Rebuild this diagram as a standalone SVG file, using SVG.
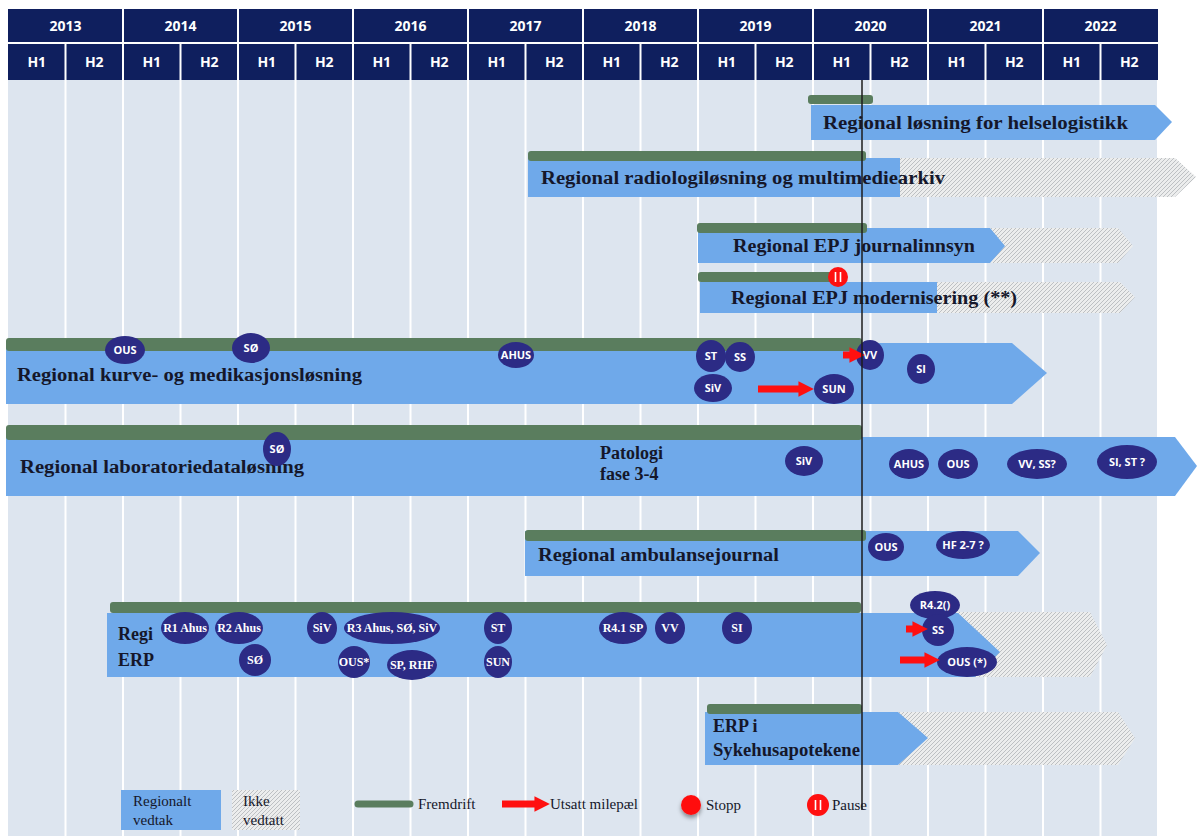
<svg xmlns="http://www.w3.org/2000/svg" width="1197" height="836" viewBox="0 0 1197 836">
<defs>
<pattern id="hatch" width="4" height="4" patternUnits="userSpaceOnUse">
<rect width="4" height="4" fill="#eceded"/>
<path d="M-1,1 L1,-1 M0,4 L4,0 M3,5 L5,3" stroke="#a9acb0" stroke-width="0.7"/>
</pattern>
<marker id="redhead" viewBox="0 0 10 10" refX="1" refY="5" markerWidth="2.2" markerHeight="2.2" orient="auto" markerUnits="strokeWidth">
<path d="M0,0 L10,5 L0,10 Z" fill="#ff1010"/>
</marker>
<filter id="shadow" x="-50%" y="-50%" width="200%" height="200%">
<feDropShadow dx="0" dy="3" stdDeviation="2" flood-color="#000" flood-opacity="0.4"/>
</filter>
</defs>
<style>
.hdr{fill:#0f1f5e}
.hline{stroke:#ffffff;stroke-width:2}
.grid{stroke:#ffffff;stroke-width:2}
.htxt{font-family:"Open Sans","Liberation Sans",sans-serif;font-weight:bold;font-size:14px;fill:#ffffff;text-anchor:middle}
.blue{fill:#6fa9ea}
.hat{fill:url(#hatch)}
.green{fill:#5a7d5e}
.lbl{font-family:"Liberation Serif",serif;font-weight:bold;font-size:18px;fill:#15172a}
.ov{fill:#2c2b85}
.ot{font-family:"Open Sans","Liberation Sans",sans-serif;font-size:11px;font-weight:bold;fill:#ffffff;text-anchor:middle}
.os{font-family:"Liberation Serif",serif;font-size:12px;font-weight:bold;fill:#ffffff;text-anchor:middle}
.red{stroke:#ff1010;stroke-width:7;marker-end:url(#redhead)}
.leg{font-family:"Liberation Serif",serif;font-size:15px;fill:#15172a}
</style>
<rect x="0" y="0" width="1197" height="836" fill="#ffffff"/>
<rect x="8" y="80" width="1150" height="756" fill="#dde5ef"/>
<g id="grid">
<path class="grid" d="M65.5,80V836M123,80V836M180.5,80V836M238,80V836M295.5,80V836M353,80V836M410.5,80V836M468,80V836M525.5,80V836M583,80V836M640.5,80V836M698,80V836M755.5,80V836M813,80V836M870.5,80V836M928,80V836M985.5,80V836M1043,80V836M1100.5,80V836M1158,80V836"/>
</g>
<g id="header">
<rect class="hdr" x="8" y="9" width="1150" height="71"/>
<path class="hline" d="M8,43H1158M123,9V80M238,9V80M353,9V80M468,9V80M583,9V80M698,9V80M813,9V80M928,9V80M1043,9V80M65.5,43V80M180.5,43V80M295.5,43V80M410.5,43V80M525.5,43V80M640.5,43V80M755.5,43V80M870.5,43V80M985.5,43V80M1100.5,43V80"/>
<text class="htxt" x="65.5" y="31">2013</text>
<text class="htxt" x="180.5" y="31">2014</text>
<text class="htxt" x="295.5" y="31">2015</text>
<text class="htxt" x="410.5" y="31">2016</text>
<text class="htxt" x="525.5" y="31">2017</text>
<text class="htxt" x="640.5" y="31">2018</text>
<text class="htxt" x="755.5" y="31">2019</text>
<text class="htxt" x="870.5" y="31">2020</text>
<text class="htxt" x="985.5" y="31">2021</text>
<text class="htxt" x="1100.5" y="31">2022</text>
<text class="htxt" x="36.75" y="67">H1</text><text class="htxt" x="94.25" y="67">H2</text>
<text class="htxt" x="151.75" y="67">H1</text><text class="htxt" x="209.25" y="67">H2</text>
<text class="htxt" x="266.75" y="67">H1</text><text class="htxt" x="324.25" y="67">H2</text>
<text class="htxt" x="381.75" y="67">H1</text><text class="htxt" x="439.25" y="67">H2</text>
<text class="htxt" x="496.75" y="67">H1</text><text class="htxt" x="554.25" y="67">H2</text>
<text class="htxt" x="611.75" y="67">H1</text><text class="htxt" x="669.25" y="67">H2</text>
<text class="htxt" x="726.75" y="67">H1</text><text class="htxt" x="784.25" y="67">H2</text>
<text class="htxt" x="841.75" y="67">H1</text><text class="htxt" x="899.25" y="67">H2</text>
<text class="htxt" x="956.75" y="67">H1</text><text class="htxt" x="1014.25" y="67">H2</text>
<text class="htxt" x="1071.75" y="67">H1</text><text class="htxt" x="1129.25" y="67">H2</text>
</g>

<g id="helselogistikk">
<polygon class="blue" points="811,105 1155,105 1172,122 1155,140 811,140"/>
<rect class="green" x="808" y="95" width="65" height="9" rx="3"/>
<text class="lbl" x="823" y="129" textLength="305" lengthAdjust="spacingAndGlyphs">Regional løsning for helselogistikk</text>
</g>

<g id="radiologi">
<polygon class="hat" points="895,158 1175,158 1196,177 1175,197 895,197"/>
<rect class="blue" x="528" y="158" width="372" height="39"/>
<rect class="green" x="528" y="151" width="338" height="10" rx="3"/>
<text class="lbl" x="541" y="184" textLength="404" lengthAdjust="spacingAndGlyphs">Regional radiologiløsning og multimediearkiv</text>
</g>

<g id="journalinnsyn">
<polygon class="hat" points="980,228 1118,228 1133,246 1118,263 980,263"/>
<polygon class="blue" points="698,228 990,228 1005,246 990,263 698,263"/>
<rect class="green" x="697" y="223" width="170" height="10" rx="3"/>
<text class="lbl" x="733" y="252" textLength="242" lengthAdjust="spacingAndGlyphs">Regional  EPJ journalinnsyn</text>
</g>

<g id="modernisering">
<polygon class="hat" points="935,282 1120,282 1135,297 1120,313 935,313"/>
<rect class="blue" x="700" y="282" width="237" height="31"/>
<rect class="green" x="698" y="272" width="135" height="10" rx="3"/>
<circle cx="838" cy="277" r="10" fill="#ff1010"/>
<path d="M835.5,272V282M840.5,272V282" stroke="#ffffff" stroke-width="1.6"/>
<text class="lbl" x="731" y="304" textLength="286" lengthAdjust="spacingAndGlyphs">Regional EPJ modernisering  (**)</text>
</g>

<g id="kurve">
<polygon class="blue" points="6,343 1012,343 1047,373 1012,404 6,404"/>
<rect class="green" x="6" y="338" width="856" height="13" rx="3"/>
<text class="lbl" x="17" y="381" textLength="345" lengthAdjust="spacingAndGlyphs">Regional kurve- og medikasjonsløsning</text>
<ellipse class="ov" cx="125" cy="350" rx="20" ry="14"/><text class="ot" x="125" y="354">OUS</text>
<ellipse class="ov" cx="251" cy="348" rx="19" ry="15"/><text class="ot" x="251" y="352">SØ</text>
<ellipse class="ov" cx="516" cy="355" rx="18" ry="13"/><text class="ot" x="516" y="359">AHUS</text>
<ellipse class="ov" cx="711" cy="356" rx="15" ry="16"/><text class="ot" x="711" y="360">ST</text>
<ellipse class="ov" cx="740" cy="357" rx="15" ry="15"/><text class="ot" x="740" y="361">SS</text>
<ellipse class="ov" cx="713" cy="388" rx="19" ry="14"/><text class="ot" x="713" y="392">SiV</text>
<ellipse class="ov" cx="834" cy="389" rx="20" ry="15"/><text class="ot" x="834" y="393">SUN</text>
<ellipse class="ov" cx="870" cy="355" rx="14" ry="15"/><text class="ot" x="870" y="359">VV</text>
<ellipse class="ov" cx="921" cy="369" rx="14" ry="15"/><text class="ot" x="921" y="373">SI</text>
</g>

<g id="laboratorie">
<polygon class="blue" points="6,437 1175,437 1197,466 1175,496 6,496"/>
<rect class="green" x="6" y="425" width="856" height="15" rx="3"/>
<text class="lbl" x="20" y="473" textLength="284" lengthAdjust="spacingAndGlyphs">Regional laboratoriedataløsning</text>
<text class="lbl" x="600" y="459">Patologi</text>
<text class="lbl" x="600" y="480">fase 3-4</text>
<ellipse class="ov" cx="277" cy="449" rx="14" ry="17"/><text class="ot" x="277" y="453">SØ</text>
<ellipse class="ov" cx="804" cy="461" rx="19" ry="15"/><text class="ot" x="804" y="465">SiV</text>
<ellipse class="ov" cx="909" cy="464" rx="20" ry="15"/><text class="ot" x="909" y="468">AHUS</text>
<ellipse class="ov" cx="958" cy="464" rx="20" ry="15"/><text class="ot" x="958" y="468">OUS</text>
<ellipse class="ov" cx="1037" cy="464" rx="30" ry="15"/><text class="ot" x="1037" y="468">VV, SS?</text>
<ellipse class="ov" cx="1127" cy="462" rx="30" ry="17"/><text class="ot" x="1127" y="466">SI, ST ?</text>
</g>

<g id="ambulanse">
<polygon class="blue" points="525,531 1018,531 1040,553 1018,576 525,576"/>
<rect class="green" x="525" y="530" width="341" height="11" rx="3"/>
<text class="lbl" x="538" y="561" textLength="241" lengthAdjust="spacingAndGlyphs">Regional ambulansejournal</text>
<ellipse class="ov" cx="886" cy="547" rx="18" ry="14"/><text class="ot" x="886" y="551">OUS</text>
<ellipse class="ov" cx="963" cy="545" rx="27" ry="14"/><text class="ot" x="963" y="549">HF 2-7 ?</text>
</g>

<g id="erp">
<polygon class="hat" points="955,612 1090,612 1107,645 1090,677 955,677"/>
<polygon class="blue" points="107,613 958,613 1000,652 975,677 107,677"/>
<rect class="green" x="110" y="602" width="751" height="11" rx="3"/>
<text class="lbl" x="118" y="640">Regi</text>
<text class="lbl" x="118" y="666">ERP</text>
<ellipse class="ov" cx="185" cy="628" rx="24" ry="16"/><text class="os" x="185" y="632">R1 Ahus</text>
<ellipse class="ov" cx="239" cy="628" rx="24" ry="16"/><text class="os" x="239" y="632">R2 Ahus</text>
<ellipse class="ov" cx="322" cy="628" rx="15" ry="16"/><text class="os" x="322" y="632">SiV</text>
<ellipse class="ov" cx="392" cy="628" rx="48" ry="16"/><text class="os" x="392" y="632">R3 Ahus, SØ, SiV</text>
<ellipse class="ov" cx="498" cy="628" rx="14" ry="16"/><text class="os" x="498" y="632">ST</text>
<ellipse class="ov" cx="623" cy="628" rx="24" ry="16"/><text class="os" x="623" y="632">R4.1 SP</text>
<ellipse class="ov" cx="670" cy="628" rx="15" ry="16"/><text class="os" x="670" y="632">VV</text>
<ellipse class="ov" cx="737" cy="628" rx="15" ry="16"/><text class="os" x="737" y="632">SI</text>
<ellipse class="ov" cx="255" cy="660" rx="16" ry="16"/><text class="os" x="255" y="664">SØ</text>
<ellipse class="ov" cx="354" cy="662" rx="16" ry="16"/><text class="os" x="354" y="666">OUS*</text>
<ellipse class="ov" cx="412" cy="665" rx="25" ry="15"/><text class="os" x="412" y="669">SP, RHF</text>
<ellipse class="ov" cx="498" cy="662" rx="14" ry="16"/><text class="os" x="498" y="666">SUN</text>
<ellipse class="ov" cx="935" cy="605" rx="25" ry="14"/><text class="ot" x="935" y="609">R4.2()</text>
<ellipse class="ov" cx="938" cy="630" rx="16" ry="16"/><text class="ot" x="938" y="634">SS</text>
<ellipse class="ov" cx="967" cy="662" rx="30" ry="15"/><text class="ot" x="967" y="666">OUS (*)</text>
</g>

<g id="sykehusapotek">
<polygon class="hat" points="895,712 1118,712 1135,738 1118,765 895,765"/>
<polygon class="blue" points="705,712 898,712 928,738 898,765 705,765"/>
<rect class="green" x="707" y="704" width="155" height="10" rx="3"/>
<text class="lbl" x="713" y="732">ERP i</text>
<text class="lbl" x="713" y="756" textLength="147" lengthAdjust="spacingAndGlyphs">Sykehusapotekene</text>
</g>

<g id="connectors">
<line class="red" x1="843" y1="355" x2="851" y2="355"/>
<line class="red" x1="758" y1="389" x2="800" y2="389"/>
<line class="red" x1="906" y1="629" x2="914" y2="629"/>
<line class="red" x1="900" y1="660" x2="926" y2="660"/>
<line x1="862" y1="80" x2="862" y2="810" stroke="#1d1d1d" stroke-width="1.5"/>
</g>

<g id="legend">
<rect class="blue" x="121" y="790" width="100" height="40"/>
<text class="leg" x="133" y="806">Regionalt</text>
<text class="leg" x="133" y="825">vedtak</text>
<rect class="hat" x="232" y="790" width="68" height="40"/>
<text class="leg" x="243" y="806">Ikke</text>
<text class="leg" x="243" y="825">vedtatt</text>
<line x1="358" y1="804" x2="410" y2="804" stroke="#5a7d5e" stroke-width="7" stroke-linecap="round"/>
<text class="leg" x="418" y="809">Fremdrift</text>
<line class="red" x1="502" y1="804" x2="536" y2="804"/>
<text class="leg" x="550" y="809">Utsatt milepæl</text>
<circle cx="691" cy="805" r="10" fill="#ff1010" filter="url(#shadow)"/>
<text class="leg" x="706" y="810">Stopp</text>
<circle cx="818" cy="805" r="11" fill="#ff1010"/>
<path d="M815.5,800V810M820.5,800V810" stroke="#ffffff" stroke-width="1.6"/>
<text class="leg" x="832" y="810">Pause</text>
</g>
</svg>
